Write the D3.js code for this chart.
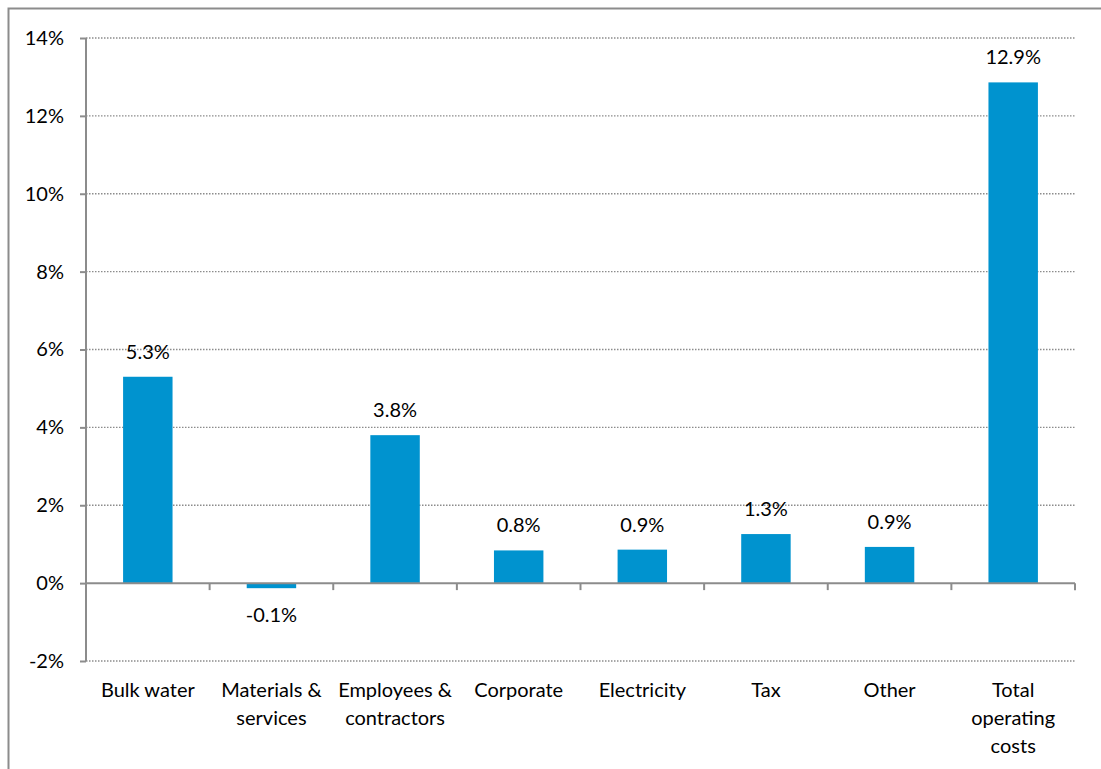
<!DOCTYPE html>
<html><head><meta charset="utf-8">
<script src="https://cdn.jsdelivr.net/npm/d3@7"></script>
<style>body{margin:0;background:#fff}svg{display:block}text{font-family:Lato,"Open Sans",sans-serif;fill:#000}</style>
</head><body><svg id="c" width="1101" height="769"></svg>
<script>
const categories = [["Bulk water"],["Materials &","services"],["Employees &","contractors"],["Corporate"],["Electricity"],["Tax"],["Other"],["Total","operating","costs"]];
const values = [5.3, -0.13, 3.8, 0.84, 0.86, 1.26, 0.93, 12.86];
const labels = ["5.3%","-0.1%","3.8%","0.8%","0.9%","1.3%","0.9%","12.9%"];
const yTicks = [-2,0,2,4,6,8,10,12,14];

const svg = d3.select("#c");
svg.append("rect").attr("x",8.5).attr("y",8.5).attr("width",1200).attr("height",900).attr("fill","none").attr("stroke","#8c8c8c").attr("stroke-width",2);

const pL=86, pR=1075, pT=38, pB=661;
const fs = "20px";
const x = d3.scaleBand().domain(d3.range(categories.length)).range([pL,pR]).padding(0);
const y = d3.scaleLinear().domain([-2,14]).range([pB,pT]);
const grid="#8c8c8c";

// gridlines
svg.append("g").selectAll("line").data(yTicks.filter(d=>d!==0)).join("line")
  .attr("x1",pL).attr("x2",pR).attr("y1",d=>y(d)).attr("y2",d=>y(d))
  .attr("stroke",grid).attr("stroke-width",1.3).attr("stroke-dasharray","1.5,1.5");

// y axis
const yAxis = d3.axisLeft(y).tickValues(yTicks).tickFormat(d=>d+"%").tickSize(6).tickPadding(16);
const ya = svg.append("g").attr("transform",`translate(${pL},0)`).call(yAxis);
ya.select(".domain").attr("stroke",grid).attr("stroke-width",2).attr("d",`M0,${pT}V${pB}`);
ya.selectAll(".tick line").attr("stroke",grid).attr("stroke-width",2);
ya.selectAll(".tick text").style("font-size",fs).style("font-family","Lato,'Open Sans',sans-serif").attr("fill","#000");

// bars
const bw = x.bandwidth()*0.4;
svg.append("g").selectAll("rect").data(values).join("rect")
  .attr("x",(d,i)=>x(i)+x.bandwidth()/2-bw/2).attr("width",bw)
  .attr("y",d=>y(Math.max(0,d))).attr("height",d=>Math.abs(y(d)-y(0)))
  .attr("fill","#0093cf");

// zero axis
const zg = svg.append("g");
zg.append("line").attr("x1",pL).attr("x2",pR).attr("y1",y(0)).attr("y2",y(0)).attr("stroke",grid).attr("stroke-width",2);
zg.selectAll("line.t").data(d3.range(categories.length+1)).join("line").attr("class","t")
  .attr("x1",i=>pL+i*x.step()).attr("x2",i=>pL+i*x.step()).attr("y1",y(0)).attr("y2",y(0)+7)
  .attr("stroke",grid).attr("stroke-width",2);

// value labels
svg.append("g").selectAll("text").data(values).join("text")
  .attr("x",(d,i)=>x(i)+x.bandwidth()/2)
  .attr("y",d=>d>=0 ? y(d)-18 : y(d)+34)
  .attr("text-anchor","middle").style("font-size",fs)
  .text((d,i)=>labels[i]);

// category labels
const cg = svg.append("g").selectAll("text").data(categories).join("text")
  .attr("text-anchor","middle").style("font-size",fs)
  .attr("transform",(d,i)=>`translate(${x(i)+x.bandwidth()/2},697)`);
cg.selectAll("tspan").data(d=>d).join("tspan").attr("x",0).attr("dy",(d,j)=>j===0?0:28).text(d=>d);
</script></body></html>
